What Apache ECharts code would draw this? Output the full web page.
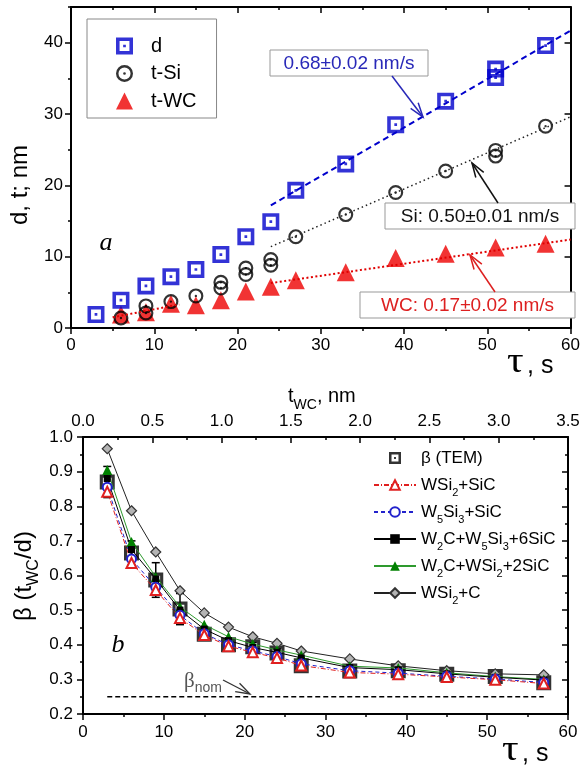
<!DOCTYPE html>
<html><head><meta charset="utf-8">
<script src="https://cdn.jsdelivr.net/npm/echarts@6/dist/echarts.min.js"></script>
<style>html,body{margin:0;padding:0;background:#fff}#c{width:583px;height:770px}</style>
</head><body><div id="c"></div>
<script>
// ---------- Panel a data ----------
const tauD   = [3,6,9,12,15,18,21,24,27,33,39,45,51,51,57];
const dVals  = [1.9,3.9,5.9,7.2,8.2,10.3,12.8,14.9,19.3,23.0,28.5,31.8,36.3,35.1,39.6];
const tauSi  = [6,9,9,12,15,18,18,21,21,24,24,27,33,39,45,51,51,57];
const tSiVals= [1.4,3.1,2.1,3.7,4.5,6.4,5.6,8.4,7.5,9.6,8.8,12.8,15.9,19.0,22.0,24.9,24.1,28.3];
const tauWC  = [6,9,12,15,18,21,24,27,33,39,45,51,57];
const tWCVals= [1.9,2.2,3.4,3.2,3.9,5.1,5.8,6.7,7.8,9.8,10.4,11.3,11.8];
const fitD   = [[24,17.2],[60,41.7]];
const fitSi  = [[24,11.4],[60,29.6]];
const fitWC  = [[24,6.3],[60,12.4]];
const fitWC0 = [[5,1.5],[13,3.3]];
const yTicksA = [0,10,20,30,40];
const yMinorA = [5,15,25,35,45];

// ---------- Panel b data ----------
const tauB = [3,6,9,12,15,18,21,24,27,33,39,45,51,57];
const betaTEM     = [0.870,0.665,0.587,0.503,0.430,0.400,0.394,0.376,0.339,0.324,0.325,0.315,0.308,0.290];
const betaErr     = [0.045,0.035,0.050,0.045,0.015,0.012,0.012,0.012,0.012,0.012,0.012,0.012,0.012,0.012];
const betaWSi2SiC = [0.842,0.636,0.558,0.477,0.428,0.396,0.378,0.362,0.340,0.320,0.315,0.307,0.299,0.288];
const betaW5Si3SiC= [0.855,0.648,0.566,0.485,0.432,0.400,0.382,0.366,0.345,0.325,0.318,0.309,0.301,0.291];
const betaW2CW5Si3= [0.880,0.675,0.590,0.500,0.445,0.412,0.392,0.378,0.362,0.334,0.328,0.316,0.306,0.298];
const betaW2CWSi2 = [0.905,0.697,0.596,0.509,0.458,0.423,0.402,0.385,0.370,0.338,0.333,0.319,0.308,0.300];
const betaWSi2C   = [0.966,0.787,0.668,0.556,0.492,0.451,0.423,0.404,0.382,0.359,0.339,0.325,0.316,0.313];
const betaNom = [[3,0.25],[57,0.25]];

const FF = '"Liberation Sans", Arial, sans-serif';
const SERIF = '"Liberation Serif", "Times New Roman", serif';
const SQ = 'path://M0,0H20V20H0Z M4.2,4.2V15.8H15.8V4.2Z M8.4,8.4H11.6V11.6H8.4Z';
const CI = 'path://M0,10A10,10 0 1,1 20,10A10,10 0 1,1 0,10Z M2.9,10A7.1,7.1 0 1,0 17.1,10A7.1,7.1 0 1,0 2.9,10Z M8.4,10A1.6,1.6 0 1,1 11.6,10A1.6,1.6 0 1,1 8.4,10Z';

const zip = (a,b) => a.map((t,i)=>[t,b[i]]);

const axLine = {show:true, onZero:false, lineStyle:{color:'#000', width:2}};
const tickLS = {color:'#000', width:1.5};
const lbl = {fontSize:17, color:'#000', fontFamily:FF};

function arrow(x1,y1,x2,y2,color,w){
  const a = Math.atan2(y2-y1,x2-x1), L = 15, s = 0.32;
  return [
    {type:'line', silent:true, z:100, shape:{x1,y1,x2,y2}, style:{stroke:color,lineWidth:w}},
    {type:'polyline', silent:true, z:100, shape:{points:[[x2-L*Math.cos(a-s), y2-L*Math.sin(a-s)],[x2,y2],[x2-L*Math.cos(a+s), y2-L*Math.sin(a+s)]]}, style:{stroke:color,lineWidth:w,fill:null}}
  ];
}
function box(x,y,w,h,text,color){
  return [
    {type:'rect', silent:true, z:100, shape:{x,y,width:w,height:h}, style:{fill:'#fff',stroke:'#999',lineWidth:1}},
    {type:'text', silent:true, z:101, x:x+w/2, y:y+h/2+1, style:{text, fill:color, font:'19px '+FF, align:'center', verticalAlign:'middle', textAlign:'center', textVerticalAlign:'middle'}}
  ];
}
function txt(x,y,style,extra){ return Object.assign({type:'text', silent:true, z:101, x, y, style}, extra||{}); }

const chart = echarts.init(document.getElementById('c'), null, {renderer:'canvas'});
const option = {
  animation:false,
  backgroundColor:'#fff',
  grid:[
    {left:71, top:7, width:501, height:321},
    {left:83, top:437, width:485, height:277}
  ],
  legend:[
    {data:['d','t-Si','t-WC'], orient:'vertical', left:87, top:19, padding:[16,20,6,29],
     itemWidth:17, itemHeight:17, itemGap:5.5, borderColor:'#888', borderWidth:1, backgroundColor:'#fff',
     textStyle:{fontSize:20, lineHeight:22, color:'#000', fontFamily:FF, padding:[0,0,0,13]}, selectedMode:false},
    {data:['β (TEM)','WSi2+SiC','W5Si3+SiC','W2C+W5Si3+6SiC','W2C+WSi2+2SiC','WSi2+C'], orient:'vertical',
     left:373, top:445, padding:0, itemWidth:42, itemHeight:12, itemGap:1, selectedMode:false,
     formatter: n => n.replace(/([A-Za-z])(\d)/g, '$1{s|$2}'),
     textStyle:{fontSize:17, lineHeight:26, color:'#000', fontFamily:FF,
       rich:{s:{fontSize:11, lineHeight:11, verticalAlign:'bottom', fontFamily:FF, color:'#000'}}}}
  ],
  xAxis:[
    {gridIndex:0, type:'value', min:0, max:60, interval:10, position:'bottom', axisLine:axLine,
     axisTick:{show:true, length:6, lineStyle:tickLS}, minorTick:{show:true, splitNumber:2, length:3, lineStyle:tickLS},
     splitLine:{show:false}, axisLabel:Object.assign({margin:9}, lbl)},
    {gridIndex:0, type:'value', min:0, max:60, interval:10, position:'top', axisLine:axLine,
     axisTick:{show:true, inside:true, length:6, lineStyle:tickLS}, minorTick:{show:true, splitNumber:2, length:3, lineStyle:tickLS},
     splitLine:{show:false}, axisLabel:{show:false}},
    {gridIndex:1, type:'value', min:0, max:60, interval:10, position:'bottom', axisLine:axLine,
     axisTick:{show:true, length:6, lineStyle:tickLS}, minorTick:{show:true, splitNumber:2, length:3, lineStyle:tickLS},
     splitLine:{show:false}, axisLabel:Object.assign({margin:10}, lbl)},
    {gridIndex:1, type:'value', min:0, max:3.5, interval:0.5, position:'top', axisLine:axLine,
     axisTick:{show:true, inside:true, length:6, lineStyle:tickLS}, minorTick:{show:true, splitNumber:2, length:3, lineStyle:tickLS},
     splitLine:{show:false}, axisLabel:Object.assign({margin:7, formatter:v=>v.toFixed(1)}, lbl)}
  ],
  yAxis:[
    {gridIndex:0, type:'value', min:0, max:45, position:'left', axisLine:axLine,
     axisTick:{show:true, length:6, lineStyle:tickLS, customValues:yTicksA}, splitLine:{show:false},
     axisLabel:Object.assign({margin:8, customValues:yTicksA}, lbl)},
    {gridIndex:0, type:'value', min:0, max:45, position:'left', axisLine:{show:false},
     axisTick:{show:true, length:3, lineStyle:tickLS, customValues:yMinorA}, splitLine:{show:false}, axisLabel:{show:false}},
    {gridIndex:0, type:'value', min:0, max:45, position:'right', axisLine:axLine,
     axisTick:{show:true, inside:true, length:6, lineStyle:tickLS, customValues:yTicksA}, splitLine:{show:false}, axisLabel:{show:false}},
    {gridIndex:0, type:'value', min:0, max:45, position:'right', axisLine:{show:false},
     axisTick:{show:true, inside:true, length:3, lineStyle:tickLS, customValues:yMinorA}, splitLine:{show:false}, axisLabel:{show:false}},
    {gridIndex:1, type:'value', min:0.2, max:1.0, interval:0.1, position:'left', axisLine:axLine,
     axisTick:{show:true, length:6, lineStyle:tickLS}, minorTick:{show:true, splitNumber:2, length:3, lineStyle:tickLS},
     splitLine:{show:false}, axisLabel:Object.assign({margin:10, formatter:v=>v.toFixed(1)}, lbl)},
    {gridIndex:1, type:'value', min:0.2, max:1.0, interval:0.1, position:'right', axisLine:axLine,
     axisTick:{show:true, inside:true, length:6, lineStyle:tickLS}, minorTick:{show:true, splitNumber:2, length:3, lineStyle:tickLS},
     splitLine:{show:false}, axisLabel:{show:false}}
  ],
  series:[
    // panel a fits
    {type:'line', name:'fitD', xAxisIndex:0, yAxisIndex:0, data:fitD, symbol:'none', silent:true,
     lineStyle:{color:'#0000cc', width:2, type:[6,4]}},
    {type:'line', name:'fitSi', xAxisIndex:0, yAxisIndex:0, data:fitSi, symbol:'none', silent:true,
     lineStyle:{color:'#222', width:1.5, type:[1.5,3]}},
    {type:'line', name:'fitWC', xAxisIndex:0, yAxisIndex:0, data:fitWC, symbol:'none', silent:true,
     lineStyle:{color:'#e00000', width:2, type:[2,2.5]}},
    {type:'line', name:'fitWC0', xAxisIndex:0, yAxisIndex:0, data:fitWC0, symbol:'none', silent:true,
     lineStyle:{color:'#e00000', width:2, type:[2,2.5]}},
    // panel a markers
    {type:'scatter', name:'t-WC', xAxisIndex:0, yAxisIndex:0, data:zip(tauWC,tWCVals), symbol:'triangle', symbolSize:18,
     symbolKeepAspect:true, itemStyle:{color:'#ee0000'}},
    {type:'scatter', name:'t-Si', xAxisIndex:0, yAxisIndex:0, data:zip(tauSi,tSiVals), symbol:CI, symbolSize:15,
     symbolKeepAspect:true, itemStyle:{color:'#000'}},
    {type:'scatter', name:'d', xAxisIndex:0, yAxisIndex:0, data:zip(tauD,dVals), symbol:SQ, symbolSize:17,
     symbolKeepAspect:true, itemStyle:{color:'#0000cc'}},
    // panel b
    {type:'line', name:'βnom', xAxisIndex:2, yAxisIndex:4, data:betaNom, symbol:'none', silent:true,
     lineStyle:{color:'#000', width:1.5, type:[5,3]}},
    {type:'line', name:'WSi2+C', xAxisIndex:2, yAxisIndex:4, data:zip(tauB,betaWSi2C), symbol:'diamond', symbolSize:10,
     itemStyle:{color:'#b4b4b4', borderColor:'#333', borderWidth:1.2}, lineStyle:{color:'#222', width:1}},
    {type:'line', name:'W2C+WSi2+2SiC', xAxisIndex:2, yAxisIndex:4, data:zip(tauB,betaW2CWSi2), symbol:'triangle', symbolSize:10,
     itemStyle:{color:'#008000'}, lineStyle:{color:'#2e9a2e', width:1}},
    {type:'line', name:'W2C+W5Si3+6SiC', xAxisIndex:2, yAxisIndex:4, data:zip(tauB,betaW2CW5Si3), symbol:'rect', symbolSize:7,
     itemStyle:{color:'#000'}, lineStyle:{color:'#000', width:1}},
    {type:'line', name:'W5Si3+SiC', xAxisIndex:2, yAxisIndex:4, data:zip(tauB,betaW5Si3SiC), symbol:'emptyCircle', symbolSize:9,
     itemStyle:{color:'#2222cc', borderWidth:1.3}, lineStyle:{color:'#2222cc', width:1, type:[4,3]}},
    {type:'line', name:'WSi2+SiC', xAxisIndex:2, yAxisIndex:4, data:zip(tauB,betaWSi2SiC), symbol:'emptyTriangle', symbolSize:10,
     itemStyle:{color:'#e02020', borderWidth:1.3}, lineStyle:{color:'#e02020', width:1, type:[5,2,1,2]}},
    {type:'custom', name:'err', xAxisIndex:2, yAxisIndex:4, silent:true,
     data: tauB.map((t,i)=>[t, betaTEM[i]-betaErr[i], betaTEM[i]+betaErr[i]]),
     encode:{x:0, y:[1,2]},
     renderItem:(params, api)=>{
       const x = api.value(0), lo = api.coord([x, api.value(1)]), hi = api.coord([x, api.value(2)]);
       const w = 4, st = {stroke:'#000', lineWidth:1.5};
       return {type:'group', children:[
         {type:'line', shape:{x1:lo[0],y1:lo[1],x2:hi[0],y2:hi[1]}, style:st},
         {type:'line', shape:{x1:lo[0]-w,y1:lo[1],x2:lo[0]+w,y2:lo[1]}, style:st},
         {type:'line', shape:{x1:hi[0]-w,y1:hi[1],x2:hi[0]+w,y2:hi[1]}, style:st}
       ]};
     }},
    {type:'scatter', name:'β (TEM)', xAxisIndex:2, yAxisIndex:4, data:zip(tauB,betaTEM), symbol:SQ, symbolSize:15,
     symbolKeepAspect:true, itemStyle:{color:'#000'}}
  ],
  graphic:[
    ...box(270,50,158,26,'0.68±0.02 nm/s','#2828b8'),
    ...arrow(392,76,423,117,'#2828b8',1.5),
    ...box(385,203,190,26,'Si: 0.50±0.01 nm/s','#111'),
    ...arrow(498,203,472,163,'#111',1.5),
    ...box(360,292,215,26,'WC: 0.17±0.02 nm/s','#dd2020'),
    ...arrow(495,292,470,255,'#dd2020',1.5),
    txt(106,243,{text:'a', font:'italic 26px '+SERIF, fill:'#000', align:'center', verticalAlign:'middle', textAlign:'center', textVerticalAlign:'middle'}),
    txt(118,645,{text:'b', font:'italic 26px '+SERIF, fill:'#000', align:'center', verticalAlign:'middle', textAlign:'center', textVerticalAlign:'middle'}),
    // axis titles
    txt(20,185,{text:'d, t; nm', font:'24px '+FF, fill:'#000', align:'center', verticalAlign:'middle', textAlign:'center', textVerticalAlign:'middle'}, {rotation:Math.PI/2}),
    txt(24,576,{text:'β (t{s|WC}/d)', fontSize:24, fontFamily:FF, fill:'#000', lineHeight:36, align:'center', verticalAlign:'middle', textAlign:'center', textVerticalAlign:'middle',
      rich:{s:{fontSize:16, lineHeight:16, verticalAlign:'bottom', fontFamily:FF, fill:'#000'}}}, {rotation:Math.PI/2}),
    txt(507,363,{text:'τ', font:'36px '+SERIF, fill:'#000', align:'left', verticalAlign:'middle', textAlign:'left', textVerticalAlign:'middle'}, {scaleX:1.15}),
    txt(527,366,{text:', s', font:'25px '+FF, fill:'#000', align:'left', verticalAlign:'middle', textAlign:'left', textVerticalAlign:'middle'}),
    txt(502,751,{text:'τ', font:'36px '+SERIF, fill:'#000', align:'left', verticalAlign:'middle', textAlign:'left', textVerticalAlign:'middle'}, {scaleX:1.15}),
    txt(522,754,{text:', s', font:'25px '+FF, fill:'#000', align:'left', verticalAlign:'middle', textAlign:'left', textVerticalAlign:'middle'}),
    txt(288,396,{text:'t{s|WC}, nm', fontSize:20, fontFamily:FF, fill:'#000', lineHeight:32, align:'left', verticalAlign:'middle', textAlign:'left', textVerticalAlign:'middle',
      rich:{s:{fontSize:14, lineHeight:14, verticalAlign:'bottom', fontFamily:FF, fill:'#000'}}}),
    txt(184,681,{text:'{b|β}{s|nom}', fill:'#555', align:'left', verticalAlign:'middle', textAlign:'left', textVerticalAlign:'middle',
      rich:{b:{fontSize:21, fontFamily:SERIF, lineHeight:28, fill:'#555', verticalAlign:'middle'}, s:{fontSize:14, fontFamily:FF, lineHeight:14, fill:'#555', verticalAlign:'bottom'}}}),
    ...arrow(223,680,250,694,'#333',1.3)
  ]
};
chart.setOption(option);
</script></body></html>
